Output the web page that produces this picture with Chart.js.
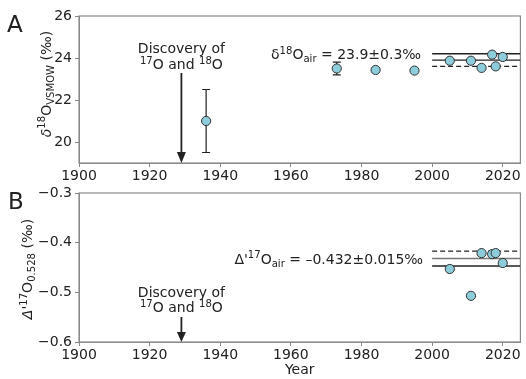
<!DOCTYPE html>
<html>
<head>
<meta charset="utf-8">
<script src="https://cdn.jsdelivr.net/npm/chart.js@4/dist/chart.umd.min.js"></script>
<style>
body { margin: 0; background: #fff; }
#wrap { position: relative; width: 526px; height: 379px; }
canvas { position: absolute; left: 0; top: 0; }
</style>
</head>
<body>
<div id="wrap">
  <canvas id="chartA" width="526" height="379"></canvas>
  <canvas id="chartB" width="526" height="379"></canvas>
</div>
<script>
// panel A: delta 18O of air O2
const years18 = [1936, 1973, 1984, 1995, 2005, 2011, 2014, 2017, 2018, 2020];
const d18O = [21.0, 23.5, 23.43, 23.4, 23.87, 23.87, 23.53, 24.16, 23.6, 24.05];
const d18OErr = [1.5, 0.3, 0, 0, 0, 0, 0, 0, 0, 0];
// panel B: cap delta 17O
const years17 = [2005, 2011, 2014, 2017, 2018, 2020];
const d17O = [-0.453, -0.507, -0.421, -0.423, -0.421, -0.441];
// recommended air values [mean, sd]
const air18 = [23.9, 0.3];
const air17 = [-0.432, 0.015];
const meanSpan = [2000, 2025];
const discoveryYear = 1929;
const xTicks = [1900, 1920, 1940, 1960, 1980, 2000, 2020];
const yTicksA = [20, 22, 24, 26];
const yTicksB = [-0.6, -0.5, -0.4, -0.3];

const FONT = 'DejaVu Sans';
const INK = '#222';
const SPINE = '#8a8a8a';
Chart.defaults.font.family = FONT;
Chart.defaults.color = INK;

// text with superscripts / subscripts: parts = [text, 'sup'|'sub'|'', italic]
function richText(ctx, parts, x, y, size, align) {
    const small = size * 0.72;
    const fontOf = p => (p[2] ? 'italic ' : '') + (p[1] ? small : size) + 'px "' + FONT + '"';
    let w = 0;
    parts.forEach(p => { ctx.font = fontOf(p); w += ctx.measureText(p[0]).width; });
    let cx = align === 'center' ? x - w / 2 : align === 'right' ? x - w : x;
    ctx.textAlign = 'left';
    ctx.textBaseline = 'alphabetic';
    parts.forEach(p => {
        ctx.font = fontOf(p);
        const dy = p[1] === 'sup' ? -size * 0.38 : p[1] === 'sub' ? size * 0.22 : 0;
        ctx.fillText(p[0], cx, y + dy);
        cx += ctx.measureText(p[0]).width;
    });
}

function arrow(ctx, x, y1, y2, head, half) {
    ctx.save();
    ctx.strokeStyle = INK;
    ctx.fillStyle = INK;
    ctx.lineWidth = 1.8;
    ctx.beginPath();
    ctx.moveTo(x, y1);
    ctx.lineTo(x, y2 - head + 1);
    ctx.stroke();
    ctx.beginPath();
    ctx.moveTo(x, y2);
    ctx.lineTo(x - half, y2 - head);
    ctx.lineTo(x + half, y2 - head);
    ctx.closePath();
    ctx.fill();
    ctx.restore();
}

function meanLines(air, dashed, colors) {
    const levels = [air[0] + air[1], air[0], air[0] - air[1]];
    return levels.map((v, i) => ({
        type: 'scatter',
        data: meanSpan.map(x => ({ x: x, y: v })),
        showLine: true,
        pointRadius: 0,
        borderColor: colors[i],
        borderWidth: 1.4,
        borderDash: dashed[i] ? [5, 3] : [],
        order: 1
    }));
}

function pointSet(xs, ys) {
    return {
        type: 'scatter',
        data: xs.map((x, i) => ({ x: x, y: ys[i] })),
        pointRadius: 4.6,
        pointBackgroundColor: '#8dccdb',
        pointBorderColor: '#333',
        pointBorderWidth: 1,
        order: 0
    };
}

function scales(yMin, yMax, yTicks, xHeight, showYear, fmt) {
    return {
        x: {
            type: 'linear', min: 1900, max: 2025,
            afterBuildTicks: s => { s.ticks = xTicks.map(v => ({ value: v })); },
            afterFit: s => { s.height = xHeight; },
            ticks: { font: { size: 14 }, color: INK, padding: 1, maxRotation: 0, callback: v => String(v) },
            grid: { drawOnChartArea: false, color: SPINE, tickLength: 4 },
            border: { color: SPINE },
            title: { display: showYear, text: 'Year', font: { size: 14 }, color: INK, padding: { top: 0, bottom: 0 } }
        },
        y: {
            type: 'linear', min: yMin, max: yMax,
            afterBuildTicks: s => { s.ticks = yTicks.map(v => ({ value: v })); },
            afterFit: s => { s.width = 79; },
            ticks: { font: { size: 14 }, color: INK, padding: 3, callback: fmt },
            grid: { drawOnChartArea: false, color: SPINE, tickLength: 4 },
            border: { color: SPINE }
        }
    };
}

const framePlugin = {
    id: 'frame',
    beforeDatasetsDraw(chart) {
        const { ctx, chartArea: a } = chart;
        ctx.save();
        ctx.strokeStyle = SPINE;
        ctx.lineWidth = 1.2;
        ctx.strokeRect(a.left, a.top, a.right - a.left, a.bottom - a.top);
        ctx.restore();
    }
};

const errorBars = {
    id: 'errorBars',
    beforeDatasetsDraw(chart) {
        const { ctx, scales: { x, y } } = chart;
        ctx.save();
        ctx.strokeStyle = INK;
        ctx.lineWidth = 1.2;
        years18.forEach((yr, i) => {
            if (!d18OErr[i]) return;
            const px = x.getPixelForValue(yr);
            const hi = y.getPixelForValue(d18O[i] + d18OErr[i]);
            const lo = y.getPixelForValue(d18O[i] - d18OErr[i]);
            ctx.beginPath();
            ctx.moveTo(px, hi); ctx.lineTo(px, lo);
            ctx.moveTo(px - 4, hi); ctx.lineTo(px + 4, hi);
            ctx.moveTo(px - 4, lo); ctx.lineTo(px + 4, lo);
            ctx.stroke();
        });
        ctx.restore();
    }
};

const labelsA = {
    id: 'labelsA',
    afterDraw(chart) {
        const { ctx, chartArea: a, scales: { x, y } } = chart;
        ctx.save();
        ctx.fillStyle = INK;
        ctx.font = '23px "' + FONT + '"';
        ctx.textAlign = 'left';
        ctx.textBaseline = 'alphabetic';
        ctx.fillText('A', 7, 32);
        const dx = x.getPixelForValue(discoveryYear);
        richText(ctx, [['Discovery of', '']], dx, a.bottom - 110, 14, 'center');
        richText(ctx, [['17', 'sup'], ['O and ', ''], ['18', 'sup'], ['O', '']], dx, a.bottom - 94, 14, 'center');
        arrow(ctx, dx, a.bottom - 90, a.bottom, 11, 4.5);
        richText(ctx, [['δ', ''], ['18', 'sup'], ['O', ''], ['air', 'sub'], [' = 23.9±0.3‰', '']],
            x.getPixelForValue(meanSpan[0]) - 11, y.getPixelForValue(air18[0]) - 1, 14, 'right');
        ctx.translate(50.5, 84);
        ctx.rotate(-Math.PI / 2);
        richText(ctx, [['δ', '', true], ['18', 'sup'], ['O', ''], ['VSMOW', 'sub'], [' (‰)', '']], 0, 0, 14, 'center');
        ctx.restore();
    }
};

const labelsB = {
    id: 'labelsB',
    afterDraw(chart) {
        const { ctx, chartArea: a, scales: { x, y } } = chart;
        ctx.save();
        ctx.fillStyle = INK;
        ctx.font = '23px "' + FONT + '"';
        ctx.textAlign = 'left';
        ctx.textBaseline = 'alphabetic';
        ctx.fillText('B', 8, 209);
        const dx = x.getPixelForValue(discoveryYear);
        richText(ctx, [['Discovery of', '']], dx, a.bottom - 45, 14, 'center');
        richText(ctx, [['17', 'sup'], ['O and ', ''], ['18', 'sup'], ['O', '']], dx, a.bottom - 30, 14, 'center');
        arrow(ctx, dx, a.bottom - 25, a.bottom, 10, 4.5);
        richText(ctx, [['Δ\'', ''], ['17', 'sup'], ['O', ''], ['air', 'sub'], [' = \u20130.432±0.015‰', '']],
            x.getPixelForValue(meanSpan[0]) - 9, y.getPixelForValue(air17[0]) + 5, 14, 'right');
        ctx.translate(32, 269);
        ctx.rotate(-Math.PI / 2);
        richText(ctx, [['Δ\'', '', true], ['17', 'sup'], ['O', ''], ['0.528', 'sub'], [' (‰)', '']], 0, 0, 14, 'center');
        ctx.restore();
    }
};

new Chart(document.getElementById('chartA'), {
    type: 'scatter',
    data: {
        datasets: [pointSet(years18, d18O)].concat(
            meanLines(air18, [false, false, true], [INK, INK, INK]))
    },
    options: {
        responsive: false,
        animation: false,
        layout: { padding: { top: 16, right: 1, left: 0, bottom: 0 } },
        plugins: { legend: { display: false }, tooltip: { enabled: false } },
        scales: scales(19, 26, yTicksA, 216, false, v => String(v))
    },
    plugins: [framePlugin, errorBars, labelsA]
});

new Chart(document.getElementById('chartB'), {
    type: 'scatter',
    data: {
        datasets: [pointSet(years17, d17O)].concat(
            meanLines(air17, [true, false, false], [INK, '#777', INK]))
    },
    options: {
        responsive: false,
        animation: false,
        layout: { padding: { top: 193, right: 1, left: 0, bottom: 0 } },
        plugins: { legend: { display: false }, tooltip: { enabled: false } },
        scales: scales(-0.6, -0.3, yTicksB, 37, true, v => '\u2212' + Math.abs(v).toFixed(1))
    },
    plugins: [framePlugin, labelsB]
});
</script>
</body>
</html>
